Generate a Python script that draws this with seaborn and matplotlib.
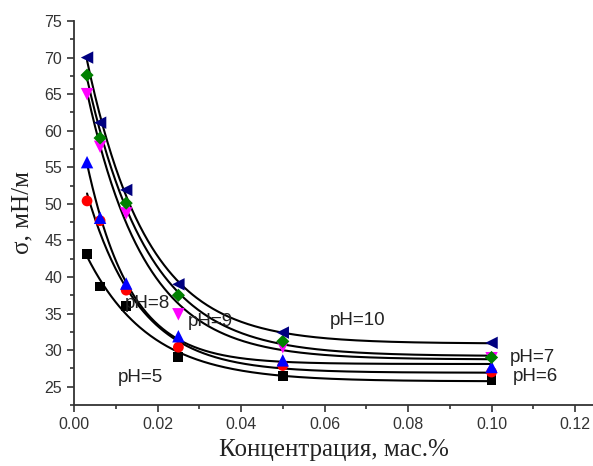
import numpy as np
import pandas as pd
import matplotlib
matplotlib.use("Agg")
import matplotlib.pyplot as plt
import seaborn as sns
from matplotlib.ticker import MultipleLocator

conc = [0.003125, 0.00625, 0.0125, 0.025, 0.05, 0.1]
ph5 = [43.1, 38.7, 36.0, 29.1, 26.5, 25.9]
ph6 = [50.4, 47.7, 38.2, 30.4, 27.9, 27.0]
ph8 = [55.7, 48.1, 39.1, 31.9, 28.6, 27.7]
ph9 = [65.0, 57.8, 48.7, 34.9, 30.4, 28.9]
ph7 = [67.6, 59.0, 50.1, 37.5, 31.2, 29.0]
ph10 = [70.0, 61.1, 51.9, 39.0, 32.4, 31.0]

series_names = ["pH=5", "pH=6", "pH=8", "pH=9", "pH=7", "pH=10"]
series_vals = [ph5, ph6, ph8, ph9, ph7, ph10]
colors = ["#000000", "#ff0000", "#0000ff", "#ff00ff", "#008000", "#000080"]
markers = ["s", "o", "^", "v", "D", "<"]
msizes = [50, 60, 80, 80, 45, 80]

labels_txt = ["pH=5", "pH=6", "pH=8", "pH=9", "pH=7", "pH=10"]
label_x = [0.0158, 0.1105, 0.0175, 0.0326, 0.1098, 0.0679]
label_y = [26.2, 26.4, 36.4, 33.9, 29.0, 34.1]

rows = []
for n, v in zip(series_names, series_vals):
    for c, s in zip(conc, v):
        rows.append({"c": c, "sigma": s, "series": n})
df = pd.DataFrame(rows)

sns.set_theme(style="ticks")
fig = plt.figure(figsize=(5.93, 4.66), dpi=100)
ax = fig.add_axes([74/593, 1-405/466, 1-74/593, (405-21)/466])


def fit_exp(x, y):
    x = np.asarray(x); y = np.asarray(y)
    best = None
    for t in np.linspace(0.002, 0.05, 2000):
        M = np.column_stack([np.ones_like(x), np.exp(-x / t)])
        coef, res, *_ = np.linalg.lstsq(M, y, rcond=None)
        err = np.sum((M @ coef - y) ** 2)
        if best is None or err < best[0]:
            best = (err, t, coef)
    return best[1], best[2]


xs = np.linspace(conc[0], conc[-1], 300)
for v in series_vals:
    t, coef = fit_exp(conc, v)
    ax.plot(xs, coef[0] + coef[1] * np.exp(-xs / t), color="black", lw=1.5, zorder=3)

for n, col, mk, ms in zip(series_names, colors, markers, msizes):
    sns.scatterplot(data=df[df["series"] == n], x="c", y="sigma", color=col,
                    marker=mk, s=ms, edgecolor="none", ax=ax, legend=False, zorder=4)

for t_, x_, y_ in zip(labels_txt, label_x, label_y):
    ax.text(x_, y_, t_, ha="center", va="center", fontsize=13.5,
            family="Liberation Sans", color="#222222", zorder=5)

ax.set_xlim(0, 0.1243)
ax.set_ylim(22.5, 75)
ax.xaxis.set_minor_locator(MultipleLocator(0.01))
ax.yaxis.set_major_locator(MultipleLocator(5))
ax.yaxis.set_minor_locator(MultipleLocator(2.5))
ax.set_xticks([0, 0.02, 0.04, 0.06, 0.08, 0.10, 0.12])
ax.set_xticklabels(["0.00", "0.02", "0.04", "0.06", "0.08", "0.10", "0.12"])
ax.tick_params(which="major", direction="out", length=5, width=1.2, labelsize=11.5,
               labelcolor="#333333", color="#333333")
ax.tick_params(which="minor", direction="out", length=3, width=1.2, color="#333333")
for lab in ax.get_xticklabels() + ax.get_yticklabels():
    lab.set_family("Liberation Sans")
for side in ["top", "right"]:
    ax.spines[side].set_visible(False)
for side in ["left", "bottom"]:
    ax.spines[side].set_linewidth(1.3)
    ax.spines[side].set_color("#333333")

ax.set_xlabel("Концентрация, мас.%", family="Liberation Serif", fontsize=18, color="#222222", labelpad=5)
ax.set_ylabel("σ, мН/м", family="Liberation Serif", fontsize=18, color="#222222", labelpad=8)

fig.savefig("out.png", dpi=100)
